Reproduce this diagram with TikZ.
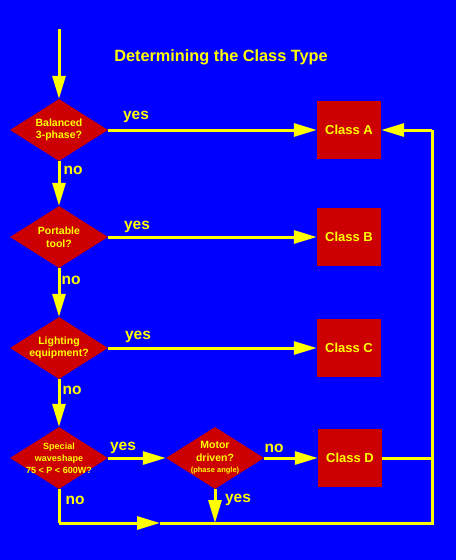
\documentclass[tikz,border=0pt]{standalone}
\usepackage{fontspec}
\setmainfont{Liberation Sans}
\usetikzlibrary{shapes.geometric,arrows.meta}
\definecolor{bg}{HTML}{0000FF}
\definecolor{rd}{HTML}{CC0000}
\definecolor{yl}{HTML}{FFFF00}
\tikzset{
  dia/.style={diamond,fill=rd,draw=none,inner sep=0pt,minimum width=98pt,minimum height=62pt},
  dtext/.style={text=yl,font=\bfseries\fontsize{10.5}{12.5}\selectfont,align=center,inner sep=0pt},
  cbox/.style={rectangle,fill=rd,draw=none,minimum width=64pt,minimum height=58pt,text=yl,font=\bfseries\fontsize{13}{15}\selectfont},
  lbl/.style={text=yl,font=\bfseries\fontsize{15.5}{17}\selectfont,inner sep=0pt},
  ln/.style={draw=yl,line width=3pt},
  arr/.style={ln,-{Triangle[length=23pt,width=13pt]}},
}
\begin{document}
\begin{tikzpicture}[x=1pt,y=-1pt]
\fill[bg] (0,0) rectangle (456,560);
\useasboundingbox (0,0) rectangle (456,560);
\node[text=yl,font=\bfseries\fontsize{16.3}{18}\selectfont] (title) at (221,57) {Determining the Class Type};
% decisions
\node[dia] (d1) at (59,130) {};
\node[dtext] (t1) at (d1) {Balanced\\3-phase?};
\node[dia] (d2) at (59,237) {};
\node[dtext] (t2) at (d2) {Portable\\tool?};
\node[dia] (d3) at (59,348) {};
\node[dtext] (t3) at (d3) {Lighting\\equipment?};
\node[dia] (d4) at (59,458) {};
\node[dtext,font=\bfseries\fontsize{9}{12}\selectfont] (t4) at (d4) {Special\\waveshape\\75 < P < 600W?};
\node[dia] (m) at (215,458) {};
\node[dtext] (tm) at (m) {Motor\\driven?\\[-1pt]{\fontsize{7.5}{8}\selectfont (phase angle)}};
% classes
\node[cbox] (A) at (349,130) {Class A};
\node[cbox] (B) at (349,237) {Class B};
\node[cbox] (C) at (349,348) {Class C};
\node[cbox] (D) at (350,458) {Class D};
% coordinates
\coordinate (start) at (59,29);
\coordinate (bl) at (59,523);
\coordinate (bm) at (160,523);
\coordinate (br) at (432,523);
\coordinate (tr) at (432,130);
\coordinate (dr) at (432,458);
\coordinate (dm) at (215,523);
% connectors
\draw[arr] (start) -- (d1.north);
\draw[arr] (d1.east) -- (A.west);
\draw[arr] (d1.south) -- (d2.north);
\draw[arr] (d2.east) -- (B.west);
\draw[arr] (d2.south) -- (d3.north);
\draw[arr] (d3.east) -- (C.west);
\draw[arr] (d3.south) -- (d4.north);
\draw[arr] (d4.east) -- (m.west);
\draw[arr] (m.east) -- (D.west);
\draw[ln] (d4.south) -- (bl);
\draw[arr] (bl) -- (bm);
\draw[ln,line join=miter] (bm) -- (br) -- (tr);
\draw[arr] (tr) -- (A.east);
\draw[ln] (D.east) -- (dr);
\draw[arr] (m.south) -- (dm);
% labels
\node[lbl] (y1) at (136,117) {yes};
\node[lbl] (n1) at (73,170) {no};
\node[lbl] (y2) at (137,227) {yes};
\node[lbl] (n2) at (71,280) {no};
\node[lbl] (y3) at (138,337) {yes};
\node[lbl] (n3) at (72,390) {no};
\node[lbl] (y4) at (123,448) {yes};
\node[lbl] (n4) at (274,448) {no};
\node[lbl] (n5) at (75,500) {no};
\node[lbl] (y5) at (238,500) {yes};
\end{tikzpicture}
\end{document}
